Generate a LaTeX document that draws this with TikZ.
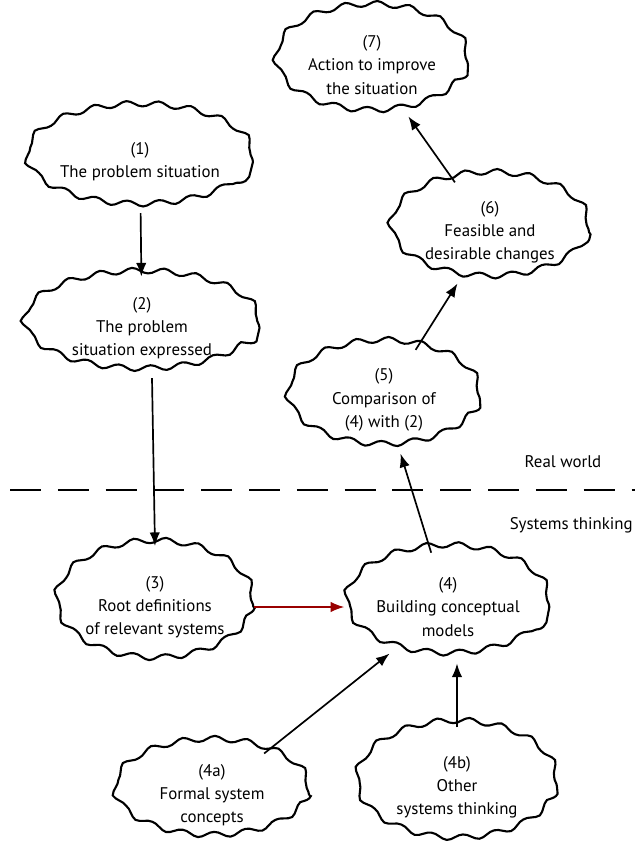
\documentclass[tikz,border=0pt]{standalone}
\usepackage{fontspec}
\setmainfont{PT Sans}
\usetikzlibrary{shapes.geometric,decorations.pathmorphing,arrows.meta}

\tikzset{
  puff/.style={ellipse, draw, line width=1.5pt, inner sep=0pt,
    decorate, decoration={snake, segment length=0.8cm, amplitude=2pt},
    align=center, font=\fontsize{12}{16.5}\selectfont},
  flow/.style={-{Latex[length=3.4mm,width=2.6mm]}, line width=1.2pt, shorten >=1pt},
  label/.style={font=\fontsize{12}{16.5}\selectfont},
}

\begin{document}
\begin{tikzpicture}[x=0.025cm,y=-0.025cm]
  \useasboundingbox (0,0) rectangle (635,857);
  % the clouds
  \node[puff, minimum width=192*0.025cm, minimum height=106*0.025cm] (s7) at (372,65) {(7)\\Action to improve\\the situation};
  \node[puff, minimum width=215*0.025cm, minimum height=100*0.025cm] (s1) at (140,162) {(1)\\The problem situation};
  \node[puff, minimum width=198*0.025cm, minimum height=104*0.025cm] (s6) at (490,232) {(6)\\Feasible and\\desirable changes};
  \node[puff, minimum width=235*0.025cm, minimum height=98*0.025cm] (s2) at (142,328) {(2)\\The problem\\situation expressed};
  \node[puff, minimum width=192*0.025cm, minimum height=104*0.025cm] (s5) at (384,400) {(5)\\Comparison of\\(4) with (2)};
  \node[puff, minimum width=196*0.025cm, minimum height=117*0.025cm] (s3) at (155,607) {(3)\\Root definitions\\of relevant systems};
  \node[puff, minimum width=200*0.025cm, minimum height=108*0.025cm] (s4) at (448,607) {(4)\\Building conceptual\\models};
  \node[puff, minimum width=194*0.025cm, minimum height=96*0.025cm] (s4a) at (212,795) {(4a)\\Formal system\\concepts};
  \node[puff, minimum width=200*0.025cm, minimum height=117*0.025cm] (s4b) at (457,787) {(4b)\\Other\\systems thinking};

  % boundary between the two worlds
  \coordinate (lineL) at (10,490);
  \coordinate (lineR) at (635,490);
  \draw[dash pattern=on 22pt off 12pt, line width=1.2pt] (lineL) -- (lineR);
  \node[label] (real) at (563,462) {Real world};
  \node[label, anchor=east, inner xsep=0pt] (sys) at (633,525) {Systems thinking};

  % arrows
  \draw[flow] (s1) -- (s2);
  \draw[flow] ([xshift=10*0.025cm]s2.south) -- (s3.north);
  \draw[flow, red!60!black, line width=0.9pt] (s3) -- (s4);
  \draw[flow] (s4) -- (s5);
  \draw[flow] (s5) -- (s6);
  \draw[flow] (s6) -- (s7);
  \draw[flow] (s4a) -- (s4);
  \draw[flow] (s4b) -- (s4b|-s4.south);
\end{tikzpicture}
\end{document}
